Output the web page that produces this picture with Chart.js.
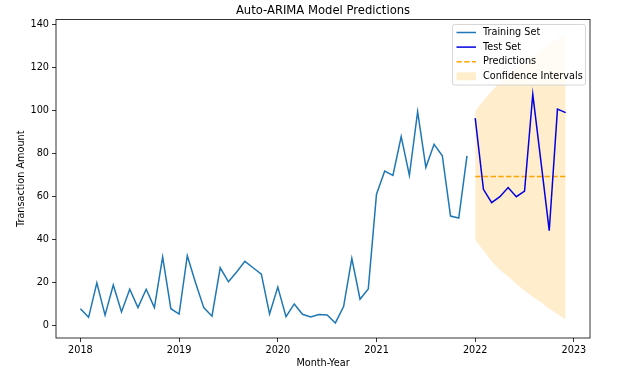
<!DOCTYPE html>
<html>
<head>
<meta charset="utf-8">
<script src="https://cdn.jsdelivr.net/npm/chart.js@4/dist/chart.umd.min.js"></script>
<style>
  html, body { margin: 0; padding: 0; background: #fff; }
  #wrap { width: 640px; height: 378px; }
</style>
</head>
<body>
<div id="wrap"><canvas id="arimaChart" width="640" height="378"></canvas></div>
<script>
'use strict';

// Monthly training data, Jan 2018 - Dec 2021
const trainStart = [2018, 0];
const trainValues = [
    8, 4, 20, 5, 19, 6.5, 17, 8.5, 17, 8.5, 32, 8,
    5.5, 32.6, 20, 8.5, 4.5, 27, 20.5, 25, 30, 27, 24, 5.5,
    18, 4.3, 10.2, 5.4, 4.2, 5.3, 5.1, 1.4, 9, 31.4, 12.4, 17.2,
    61.1, 71.9, 69.9, 87.9, 69.9, 99.4, 73.6, 84.3, 79, 51, 50.1, 78.9
];

// Test period, Jan 2022 - Dec 2022
const testStart = [2022, 0];
const testValues = [96.4, 63.4, 57.2, 60, 64.2, 60, 62.6, 107.5, 76, 44.2, 100.6, 99];
const predValues = [69.3, 69.3, 69.3, 69.3, 69.3, 69.3, 69.3, 69.3, 69.3, 69.3, 69.3, 69.3];
const ciLower = [40, 35, 30, 26, 23, 19.5, 16.5, 13.5, 11, 8, 5.5, 3];
const ciUpper = [99.5, 104.5, 109, 113, 116.5, 119.5, 122.5, 125.5, 128, 130.5, 133, 135];

const xTicks = [2018, 2019, 2020, 2021, 2022, 2023];
const yTicks = [0, 20, 40, 60, 80, 100, 120, 140];

const legendItems = [
    { label: 'Training Set', kind: 'line', color: '#1f77b4' },
    { label: 'Test Set', kind: 'line', color: '#0000e0' },
    { label: 'Predictions', kind: 'dash', color: '#ffa500' },
    { label: 'Confidence Intervals', kind: 'patch', color: 'rgba(255,165,0,0.2)' }
];

const FONT = 'DejaVu Sans';

function monthX(start, i) {
    const m = start[1] + i;
    return start[0] + Math.floor(m / 12) + (m % 12) / 12;
}

function toPoints(start, values) {
    return values.map((v, i) => ({ x: monthX(start, i), y: v }));
}

// Centrar el título sobre el área del gráfico
const titleCenterPlugin = {
    id: 'titleCenter',
    afterLayout(chart) {
        if (chart.titleBlock) {
            chart.titleBlock.left = chart.chartArea.left;
            chart.titleBlock.right = chart.chartArea.right;
        }
    }
};

// Marco de los ejes (4 lados, como matplotlib)
const framePlugin = {
    id: 'frame',
    afterDatasetsDraw(chart) {
        const { ctx, chartArea: a } = chart;
        ctx.save();
        ctx.strokeStyle = '#000';
        ctx.lineWidth = 0.8;
        ctx.strokeRect(a.left, a.top, a.right - a.left, a.bottom - a.top);
        ctx.restore();
    }
};

// Leyenda con recuadro
const boxLegendPlugin = {
    id: 'boxLegend',
    afterDraw(chart) {
        const ctx = chart.ctx;
        const left = 452.5, top = 24.5, w = 133, h = 60.5;
        const rowH = 14.6;
        ctx.save();
        ctx.fillStyle = 'rgba(255,255,255,0.8)';
        ctx.strokeStyle = '#cccccc';
        ctx.lineWidth = 0.8;
        ctx.beginPath();
        ctx.roundRect(left, top, w, h, 2);
        ctx.fill();
        ctx.stroke();

        ctx.font = '9.7px "' + FONT + '"';
        ctx.textBaseline = 'middle';
        ctx.textAlign = 'left';
        legendItems.forEach((item, i) => {
            const cy = top + 8 + i * rowH;
            const x0 = left + 4, x1 = left + 23.5;
            if (item.kind === 'patch') {
                ctx.fillStyle = item.color;
                ctx.fillRect(x0, cy - 4, x1 - x0, 8);
            } else {
                ctx.strokeStyle = item.color;
                ctx.lineWidth = 1.5;
                ctx.setLineDash(item.kind === 'dash' ? [5.4, 2.3] : []);
                ctx.beginPath();
                ctx.moveTo(x0, cy);
                ctx.lineTo(x1, cy);
                ctx.stroke();
                ctx.setLineDash([]);
            }
            ctx.fillStyle = '#000';
            ctx.fillText(item.label, left + 30.5, cy);
        });
        ctx.restore();
    }
};

function drawArimaChart() {
    const canvas = document.getElementById('arimaChart');
    const ctx = canvas.getContext('2d');

    new Chart(ctx, {
        type: 'line',
        data: {
            datasets: [
                {
                    label: 'Training Set',
                    data: toPoints(trainStart, trainValues),
                    borderColor: '#1f77b4',
                    borderWidth: 1.5,
                    pointRadius: 0,
                    fill: false
                },
                {
                    label: 'Test Set',
                    data: toPoints(testStart, testValues),
                    borderColor: '#0000e0',
                    borderWidth: 1.5,
                    pointRadius: 0,
                    fill: false
                },
                {
                    label: 'Predictions',
                    data: toPoints(testStart, predValues),
                    borderColor: '#ffa500',
                    borderWidth: 1.5,
                    borderDash: [5.4, 2.3],
                    pointRadius: 0,
                    fill: false
                },
                {
                    label: 'CI lower',
                    data: toPoints(testStart, ciLower),
                    borderWidth: 0,
                    borderColor: 'rgba(0,0,0,0)',
                    pointRadius: 0,
                    fill: false
                },
                {
                    label: 'Confidence Intervals',
                    data: toPoints(testStart, ciUpper),
                    borderWidth: 0,
                    borderColor: 'rgba(0,0,0,0)',
                    backgroundColor: 'rgba(255,165,0,0.2)',
                    pointRadius: 0,
                    fill: '-1'
                }
            ]
        },
        options: {
            responsive: false,
            animation: false,
            devicePixelRatio: 1,
            layout: { padding: { left: 0, right: 50, top: 0, bottom: 0 } },
            plugins: {
                legend: { display: false },
                tooltip: { enabled: false },
                title: {
                    display: true,
                    text: 'Auto-ARIMA Model Predictions',
                    color: '#000',
                    font: { family: FONT, size: 11.6, weight: 'normal' },
                    padding: { top: 3.6, bottom: 2 }
                }
            },
            scales: {
                x: {
                    type: 'linear',
                    min: 2017.753,
                    max: 2023.163,
                    afterBuildTicks: axis => { axis.ticks = xTicks.map(v => ({ value: v })); },
                    afterFit: axis => { axis.height = 40; },
                    border: { display: false },
                    grid: { drawOnChartArea: false, drawTicks: true, tickLength: 4, color: '#000', lineWidth: 0.8 },
                    ticks: {
                        color: '#000',
                        padding: 3,
                        maxRotation: 0,
                        font: { family: FONT, size: 9.7 },
                        callback: v => String(v)
                    },
                    title: {
                        display: true,
                        text: 'Month-Year',
                        color: '#000',
                        font: { family: FONT, size: 9.7 },
                        padding: { top: 0, bottom: 8.6 }
                    }
                },
                y: {
                    min: -5.6,
                    max: 142.2,
                    afterBuildTicks: axis => { axis.ticks = yTicks.map(v => ({ value: v })); },
                    afterFit: axis => { axis.width = 56; },
                    border: { display: false },
                    grid: { drawOnChartArea: false, drawTicks: true, tickLength: 4, color: '#000', lineWidth: 0.8 },
                    ticks: {
                        color: '#000',
                        padding: 3,
                        font: { family: FONT, size: 9.7 }
                    },
                    title: {
                        display: true,
                        text: 'Transaction Amount',
                        color: '#000',
                        font: { family: FONT, size: 9.7 },
                        padding: { top: 15.7, bottom: 0 }
                    }
                }
            }
        },
        plugins: [titleCenterPlugin, framePlugin, boxLegendPlugin]
    });
}

drawArimaChart();
</script>
</body>
</html>
